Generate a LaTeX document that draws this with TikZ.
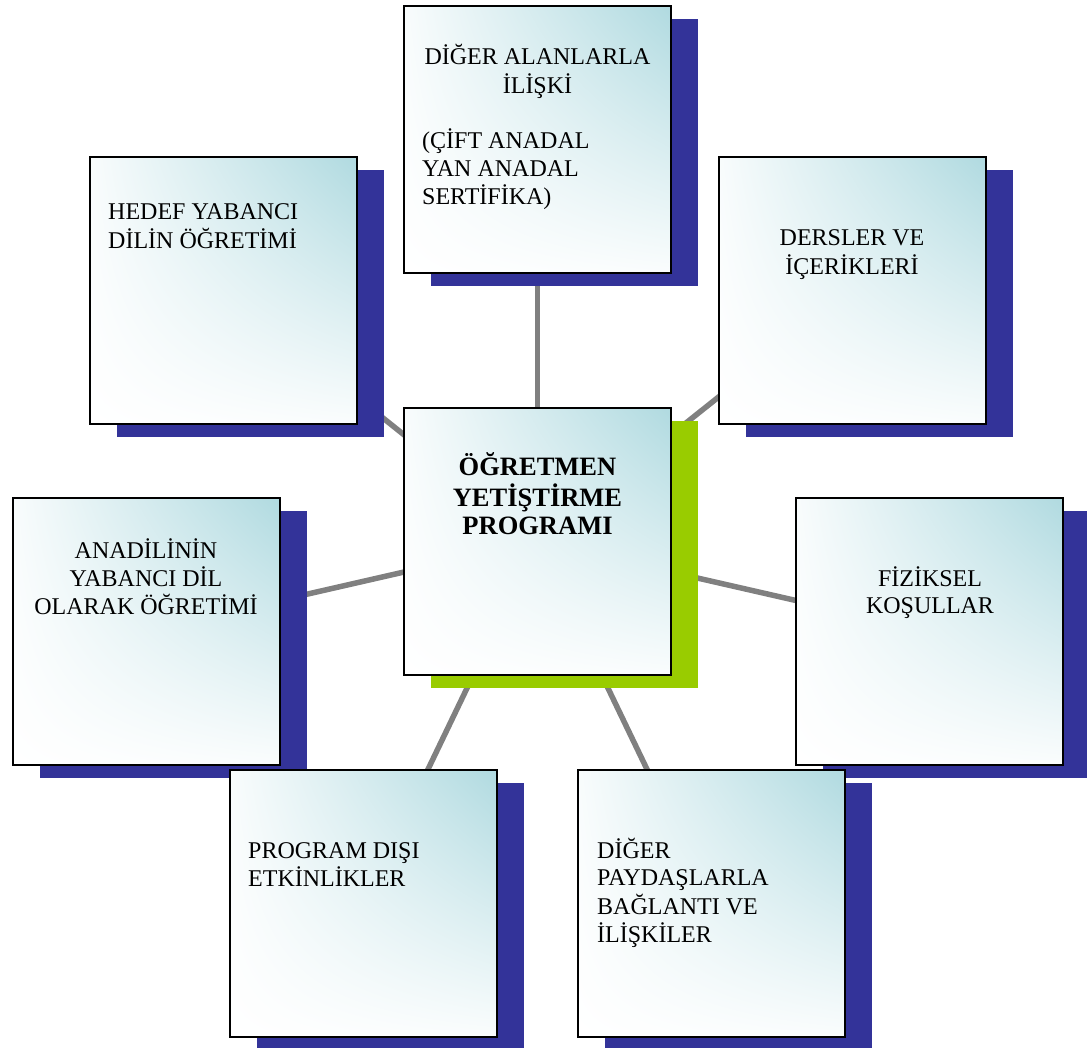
\documentclass[tikz,border=0pt]{standalone}
\usepackage{fontspec}
\setmainfont{Liberation Serif}
\usetikzlibrary{backgrounds,shadows,shadings}
\definecolor{tealbox}{RGB}{176,218,224}
\definecolor{shblue}{RGB}{51,51,153}
\definecolor{shgreen}{RGB}{153,204,0}
\definecolor{linkgray}{RGB}{128,128,128}
\tikzset{
  box/.style={draw=black, line width=2pt, minimum width=267pt, minimum height=267pt, inner sep=0pt,
    shade, upper right=tealbox, upper left=tealbox!8!white, lower right=tealbox!6!white, lower left=white},
  blueshadow/.style={drop shadow={shadow xshift=27pt, shadow yshift=-13pt, fill=shblue, opacity=1}},
  greenshadow/.style={drop shadow={shadow xshift=27pt, shadow yshift=-13pt, fill=shgreen, opacity=1}},
  link/.style={draw=linkgray, line width=5.5pt},
  lbl/.style={inner sep=0pt, font=\fontsize{24}{27.5}\selectfont},
  blbl/.style={inner sep=0pt, font=\fontsize{26.5}{28}\selectfont\bfseries},
}
\newcommand{\tl}[1]{\begin{tabular}[t]{@{}l@{}}#1\end{tabular}}
\newcommand{\tc}[1]{\begin{tabular}[t]{@{}c@{}}#1\end{tabular}}
\begin{document}
\begin{tikzpicture}[x=1pt,y=-1pt]
\useasboundingbox (0,0) rectangle (1087,1048);
% boxes
\node[box,blueshadow] (top) at (537.5,139.5) {};
\node[box,blueshadow] (tl) at (223.5,290.5) {};
\node[box,blueshadow] (tr) at (852,290.5) {};
\node[box,blueshadow] (left) at (146,631) {};
\node[box,blueshadow] (right) at (929.5,631) {};
\node[box,blueshadow] (bl) at (363.5,903.5) {};
\node[box,blueshadow] (br) at (711.5,903.5) {};
\node[box,greenshadow] (c) at (537.5,541.5) {};
% connectors
\begin{pgfonlayer}{background}
\draw[link] (c.center) -- (top.center);
\draw[link] (c.center) -- (tl.center);
\draw[link] (c.center) -- (tr.center);
\draw[link] (c.center) -- (left.center);
\draw[link] (c.center) -- (right.center);
\draw[link] (c.center) -- (bl.center);
\draw[link] (c.center) -- (br.center);
\end{pgfonlayer}
% texts
\node[lbl,anchor=base] (toptxt1) at (537.5,65) {\tc{DİĞER ALANLARLA\\İLİŞKİ}};
\node[lbl,anchor=base west] (toptxt2) at (422,149) {\tl{(ÇİFT ANADAL\\YAN ANADAL\\SERTİFİKA)}};
\node[lbl,anchor=base west] (tltxt) at (108,220) {\tl{HEDEF YABANCI\\DİLİN ÖĞRETİMİ}};
\node[lbl,anchor=base] (trtxt) at (852,246) {\tc{DERSLER VE\\İÇERİKLERİ}};
\node[blbl,anchor=base] (ctxt) at (537.5,475) {\tc{ÖĞRETMEN\\YETİŞTİRME\\PROGRAMI}};
\node[lbl,anchor=base] (lefttxt) at (146,558) {\tc{ANADİLİNİN\\YABANCI DİL\\OLARAK ÖĞRETİMİ}};
\node[lbl,anchor=base] (righttxt) at (930,586) {\tc{FİZİKSEL\\KOŞULLAR}};
\node[lbl,anchor=base west] (bltxt) at (248,858) {\tl{PROGRAM DIŞI\\ETKİNLİKLER}};
\node[lbl,anchor=base west] (brtxt) at (597,858) {\tl{DİĞER\\PAYDAŞLARLA\\BAĞLANTI VE\\İLİŞKİLER}};
\end{tikzpicture}
\end{document}
